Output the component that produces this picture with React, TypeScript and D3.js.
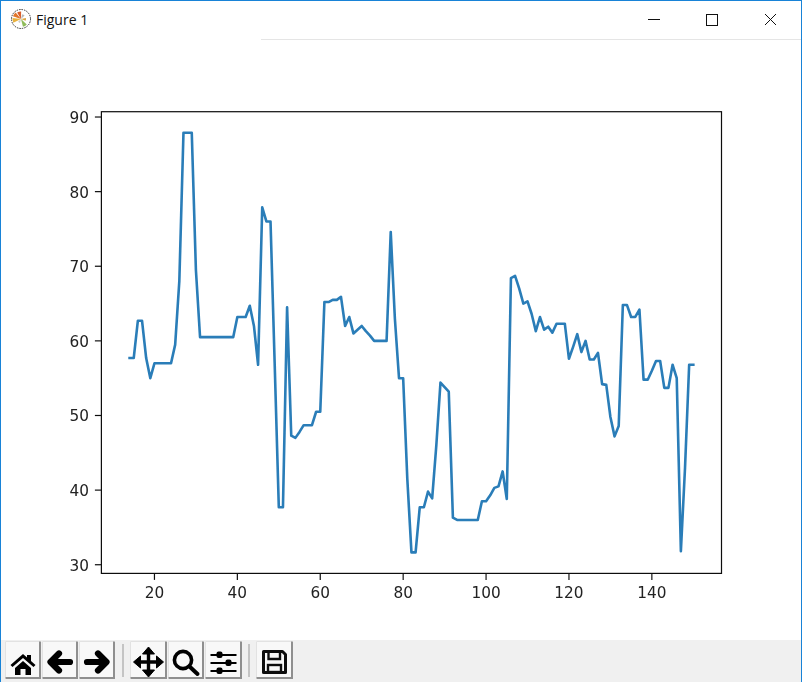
import React from 'react';
import * as d3 from 'd3';

const years = d3.range(14, 151);
const values = [
  57.7, 57.7, 62.7, 62.7, 57.7, 55, 57, 57, 57, 57, 57, 59.5, 68, 87.9, 87.9, 87.9, 69.5,
  60.5, 60.5, 60.5, 60.5, 60.5, 60.5, 60.5, 60.5, 60.5, 63.2, 63.2, 63.2, 64.7, 62, 56.8,
  77.9, 76, 76, 57, 37.7, 37.7, 64.5, 47.3, 47, 47.8, 48.7, 48.7, 48.7, 50.5, 50.5,
  65.2, 65.2, 65.5, 65.5, 65.9, 62, 63.2, 61, 61.5, 62, 61.3, 60.7, 60, 60, 60, 60,
  74.6, 63, 55, 55, 41.5, 31.65, 31.65, 37.7, 37.7, 39.8, 38.9, 46, 54.4, 53.8, 53.2,
  36.3, 36, 36, 36, 36, 36, 36, 38.5, 38.5, 39.3, 40.3, 40.5, 42.5, 38.8,
  68.4, 68.7, 67, 65, 65.3, 63.6, 61.3, 63.2, 61.5, 61.9, 61.1, 62.3, 62.3, 62.3,
  57.6, 59.2, 60.9, 58.5, 60, 57.5, 57.5, 58.4, 54.2, 54.1, 49.8, 47.2, 48.6,
  64.8, 64.8, 63.2, 63.2, 64.2, 54.8, 54.8, 56, 57.3, 57.3, 53.7, 53.7, 56.8, 55,
  31.8, 43, 56.8, 56.8,
];
const xTicks = [20, 40, 60, 80, 100, 120, 140];
const yTicks = [30, 40, 50, 60, 70, 80, 90];

const width = 802;
const height = 682;
const plot = { left: 101.4, right: 721.5, top: 111.7, bottom: 573.4 };
const mplFont = '"DejaVu Sans", sans-serif';

// matplotlib's default 5% margins
const pad = (lo: number, hi: number) => [lo - (hi - lo) * 0.05, hi + (hi - lo) * 0.05];
const x = d3.scaleLinear().domain(pad(d3.min(years)!, d3.max(years)!)).range([plot.left, plot.right]);
const y = d3.scaleLinear().domain(pad(d3.min(values)!, d3.max(values)!)).range([plot.bottom, plot.top]);

const linePath = d3.line<number>().x((_, i) => x(years[i])).y(d => y(d))(values) || '';

const buttons = [
  { x: 5, w: 36, icon: 'home' },
  { x: 42, w: 36, icon: 'back' },
  { x: 79, w: 36, icon: 'forward' },
  { x: 130, w: 37, icon: 'move' },
  { x: 168, w: 36, icon: 'zoom' },
  { x: 205, w: 37, icon: 'sliders' },
  { x: 256, w: 37, icon: 'save' },
];
const separators = [123, 249];

const Icon = ({ name }: { name: string }) => {
  switch (name) {
    case 'home':
      return <path transform="translate(0,3)" d="M-12.5 0 L0 -11 L4 -7.5 L4 -10 L8 -10 L8 -4 L12.5 0 L10.5 2 L0 -7 L-10.5 2 Z M-8 3 L0 -4 L8 3 L8 10 L2.5 10 L2.5 4 L-2.5 4 L-2.5 10 L-8 10 Z" fill="#000" />;
    case 'back':
      return <path d="M10 0 L-8 0 M-1 -8.5 L-9.5 0 L-1 8.5" fill="none" stroke="#000" strokeWidth={6.2} strokeLinecap="round" strokeLinejoin="round" />;
    case 'forward':
      return <path d="M-10 0 L8 0 M1 -8.5 L9.5 0 L1 8.5" fill="none" stroke="#000" strokeWidth={6.2} strokeLinecap="round" strokeLinejoin="round" />;
    case 'move':
      return (
        <g>
          <path d="M0 -12 L0 12 M-12 0 L12 0" stroke="#000" strokeWidth={3.4} />
          <path d="M0 -15 L6 -8 L-6 -8 Z M0 15 L6 8 L-6 8 Z M-15 0 L-8 -6 L-8 6 Z M15 0 L8 -6 L8 6 Z" fill="#000" stroke="#000" strokeLinejoin="round" />
        </g>
      );
    case 'zoom':
      return (
        <g fill="none" stroke="#000">
          <circle cx={-3} cy={-2} r={8.6} strokeWidth={3.6} />
          <path d="M3.5 4.5 L11.5 12" strokeWidth={4} strokeLinecap="round" />
        </g>
      );
    case 'sliders':
      return (
        <g fill="#000">
          <rect x={-13} y={-8} width={26} height={2} />
          <rect x={-13} y={0} width={26} height={2} />
          <rect x={-13} y={8} width={26} height={2} />
          <rect x={-7} y={-10.5} width={6} height={6.5} rx={2} />
          <rect x={2} y={-2.5} width={6} height={6.5} rx={2} />
          <rect x={-7} y={5.5} width={6} height={6.5} rx={2} />
        </g>
      );
    default:
      return (
        <g>
          <path d="M-11 -10.5 L8 -10.5 L11 -7.5 L11 10.5 L-11 10.5 Z" fill="none" stroke="#111" strokeWidth={3} strokeLinejoin="round" />
          <path d="M-6 -10 L-6 -3 L5.5 -3 L5.5 -10" fill="none" stroke="#111" strokeWidth={2.4} />
          <rect x={-6.5} y={3} width={13} height={7} fill="none" stroke="#111" strokeWidth={2.4} />
        </g>
      );
  }
};

// little matplotlib logo in the title bar
const logoAngles = [-100, -55, -15, 30, 95, 150, -150];
const logoColors = ['#e8b13d', '#e0762b', '#d95f2b', '#b8b8b8', '#d9a441', '#8fbc5a', '#c9c9c9'];
const logoRadii = [8.5, 8.5, 7.5, 5, 5, 8, 4];
const wedge = d3.arc<any>().innerRadius(0);

export default function App() {
  return (
    <div style={{ position: 'absolute', left: 0, top: 0 }}>
      <svg width={width} height={height} style={{ display: 'block' }}>
        <defs>
          {/* the reference is a slightly resampled screenshot */}
          <filter id="soft" x="0" y="0" width="100%" height="100%" filterUnits="userSpaceOnUse">
            <feGaussianBlur stdDeviation={0.45} />
          </filter>
        </defs>
        <rect width={width} height={height} fill="#fff" />

        {/* window chrome */}
        <rect x={0.5} y={0.5} width={width - 1} height={height} fill="none" stroke="#1883d7" />
        <line x1={261} x2={801} y1={39.5} y2={39.5} stroke="#e5e5e5" />
        <g transform="translate(21,19)">
          <circle r={9.5} fill="#fff" stroke="#333" strokeDasharray="1.5 1" />
          {logoAngles.map((a, i) => (
            <path
              key={a}
              fill={logoColors[i]}
              d={wedge({
                outerRadius: logoRadii[i],
                startAngle: ((a - 16) * Math.PI) / 180,
                endAngle: ((a + 16) * Math.PI) / 180,
              }) || ''}
            />
          ))}
        </g>
        <text x={36} y={25} fontFamily='"Open Sans", sans-serif' fontSize={14} fill="#111">Figure 1</text>
        <line x1={648} x2={660} y1={19.5} y2={19.5} stroke="#111" />
        <rect x={706.5} y={14.5} width={11} height={11} fill="none" stroke="#111" />
        <path d="M765 14 L776 25 M776 14 L765 25" stroke="#111" fill="none" />

        {/* axes */}
        <g filter="url(#soft)">
          <path d={linePath} fill="none" stroke="#2a7db8" strokeWidth={2.6} strokeLinejoin="round" strokeLinecap="square" />
          <rect x={plot.left} y={plot.top} width={plot.right - plot.left} height={plot.bottom - plot.top} fill="none" stroke="#111" strokeWidth={1.2} />
          {xTicks.map(t => (
            <g key={t} transform={`translate(${x(t)},${plot.bottom})`}>
              <line y2={6.5} stroke="#111" strokeWidth={1.2} />
              <text y={24.5} textAnchor="middle" fontFamily={mplFont} fontSize={15.3} fill="#222">{t}</text>
            </g>
          ))}
          {yTicks.map(t => (
            <g key={t} transform={`translate(${plot.left},${y(t)})`}>
              <line x2={-6.5} stroke="#111" strokeWidth={1.2} />
              <text x={-12.4} y={6} textAnchor="end" fontFamily={mplFont} fontSize={15.3} fill="#222">{t}</text>
            </g>
          ))}
        </g>

        {/* toolbar */}
        <rect x={1} y={640} width={width - 2} height={42} fill="#f0f0f0" />
        <g filter="url(#soft)">
          {buttons.map(b => (
            <g key={b.icon} transform={`translate(${b.x},641)`}>
              <rect width={b.w} height={38} fill="#f8f8f8" />
              <path d={`M0.5 37 L0.5 0.5 L${b.w - 1} 0.5`} fill="none" stroke="#e2e2e2" />
              <path d={`M0.5 37 L${b.w - 1} 37 L${b.w - 1} 0.5`} fill="none" stroke="#8f8f8f" strokeWidth={2} />
              <g transform={`translate(${b.w / 2},21)`}>
                <Icon name={b.icon} />
              </g>
            </g>
          ))}
          {separators.map(s => (
            <line key={s} x1={s} x2={s} y1={644} y2={677} stroke="#c4c4c4" strokeWidth={2} />
          ))}
        </g>
      </svg>
    </div>
  );
}
